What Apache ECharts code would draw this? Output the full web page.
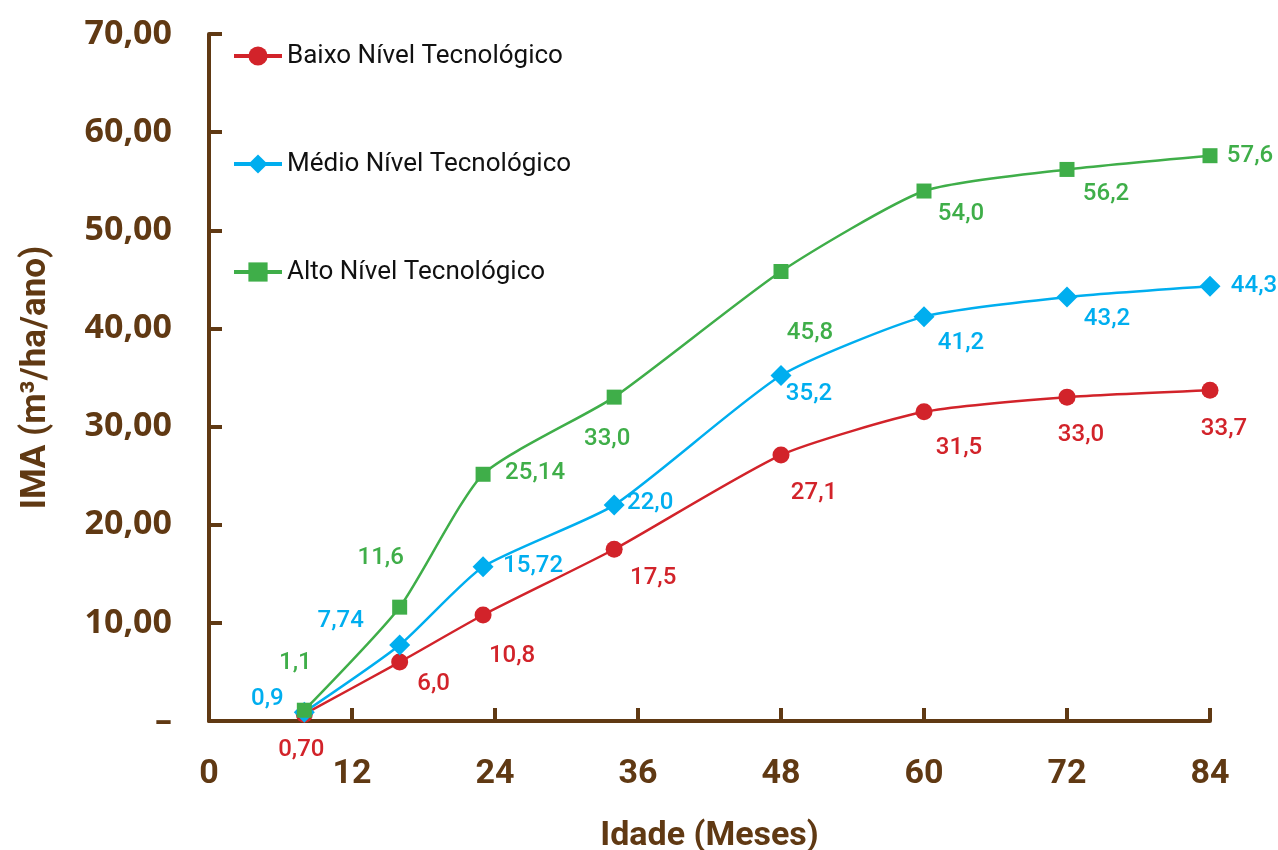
<!DOCTYPE html>
<html>
<head>
<meta charset="utf-8">
<script src="https://cdn.jsdelivr.net/npm/echarts@6/dist/echarts.min.js"></script>
<style>
html,body{margin:0;padding:0;background:#fff;}
#chart{width:1278px;height:850px;}
</style>
</head>
<body>
<div id="chart"></div>
<script>
const ages = [8, 16, 23, 34, 48, 60, 72, 84];
const seriesNames = ['Baixo Nível Tecnológico', 'Médio Nível Tecnológico', 'Alto Nível Tecnológico'];
const baixo = [0.70, 6.0, 10.8, 17.5, 27.1, 31.5, 33.0, 33.7];
const medio = [0.9, 7.74, 15.72, 22.0, 35.2, 41.2, 43.2, 44.3];
const alto = [1.1, 11.6, 25.14, 33.0, 45.8, 54.0, 56.2, 57.6];
const baixoLabels = ['0,70', '6,0', '10,8', '17,5', '27,1', '31,5', '33,0', '33,7'];
const medioLabels = ['0,9', '7,74', '15,72', '22,0', '35,2', '41,2', '43,2', '44,3'];
const altoLabels = ['1,1', '11,6', '25,14', '33,0', '45,8', '54,0', '56,2', '57,6'];
const xTickLabels = ['0', '12', '24', '36', '48', '60', '72', '84'];
const yTickLabels = ['–', '10,00', '20,00', '30,00', '40,00', '50,00', '60,00', '70,00'];

// label placement (style)
const offBaixo = [[-3,36],[34,22],[29,41],[39,29],[33,38],[35,36],[14,38],[14,39]];
const offMedio = [[-37,-13],[-59,-24],[50,-1],[36,-2],[28,18],[37,26],[40,22],[44,0]];
const offAlto  = [[-9,-47],[-19,-49],[52,-1],[-7,42],[29,61],[37,23],[39,25],[40,0]];

const brown = '#603913';
const colors = ['#d2232a', '#00aeef', '#3fae49'];

function build(values, labels, offs, color) {
  return values.map((v, i) => ({
    value: [ages[i], v],
    label: {
      show: true, position: 'inside', offset: offs[i],
      formatter: labels[i], color: color,
      fontFamily: 'Roboto', fontSize: 24, fontWeight: 500
    }
  }));
}

const chart = echarts.init(document.getElementById('chart'));
chart.setOption({
  animation: false,
  color: colors,
  grid: { left: 209, right: 68, top: 34, bottom: 129, containLabel: false, outerBoundsMode: 'none' },
  legend: {
    orient: 'vertical', left: 232, top: 43, padding: 0,
    itemWidth: 48, itemHeight: 24, itemGap: 82,
    lineStyle: { width: 4 },
    textStyle: { fontFamily: 'Roboto', fontSize: 26, color: '#111' },
    data: seriesNames
  },
  xAxis: {
    type: 'value', min: 0, max: 84, interval: 12,
    name: 'Idade (Meses)', nameLocation: 'middle', nameGap: 98,
    nameTextStyle: { fontFamily: 'Roboto', fontSize: 34, fontWeight: 'bold', color: brown },
    axisLine: { show: true, lineStyle: { color: brown, width: 4 } },
    axisTick: { show: true, inside: true, length: 13, lineStyle: { color: brown, width: 4 } },
    splitLine: { show: false },
    axisLabel: {
      margin: 36, color: brown, fontFamily: 'Roboto', fontSize: 34, fontWeight: 'bold',
      formatter: (v) => xTickLabels[Math.round(v / 12)]
    }
  },
  yAxis: {
    type: 'value', min: 0, max: 70, interval: 10,
    name: 'IMA (m³/ha/ano)', nameLocation: 'middle', nameGap: 155, nameRotate: 90,
    nameTextStyle: { fontFamily: 'Roboto', fontSize: 35, fontWeight: 'bold', color: brown },
    axisLine: { show: true, lineStyle: { color: brown, width: 4 } },
    axisTick: { show: true, inside: true, length: 13, lineStyle: { color: brown, width: 4 } },
    splitLine: { show: false },
    axisLabel: {
      margin: 37, color: brown, fontFamily: '"Open Sans"', fontSize: 34, fontWeight: 'bold',
      formatter: (v) => yTickLabels[Math.round(v / 10)]
    }
  },
  series: [
    { name: seriesNames[0], type: 'line', smooth: 0.2, symbol: 'circle', symbolSize: 17,
      lineStyle: { width: 2.5, color: colors[0] }, itemStyle: { color: colors[0] },
      data: build(baixo, baixoLabels, offBaixo, colors[0]), z: 3 },
    { name: seriesNames[1], type: 'line', smooth: 0.2, symbol: 'diamond', symbolSize: 21,
      lineStyle: { width: 2.5, color: colors[1] }, itemStyle: { color: colors[1] },
      data: build(medio, medioLabels, offMedio, colors[1]), z: 3 },
    { name: seriesNames[2], type: 'line', smooth: 0.2, symbol: 'rect', symbolSize: 15,
      lineStyle: { width: 2.5, color: colors[2] }, itemStyle: { color: colors[2] },
      data: build(alto, altoLabels, offAlto, colors[2]), z: 4 }
  ]
});
</script>
</body>
</html>
